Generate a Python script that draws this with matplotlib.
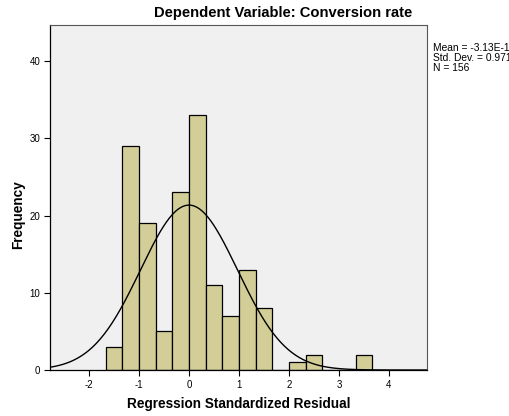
import numpy as np
import matplotlib.pyplot as plt

# histogram of standardized residuals, bins of width 1/3
bin_edges = np.arange(-5, 12) / 3.0
counts = [3, 29, 19, 5, 23, 33, 11, 7, 13, 8, 0, 1, 2, 0, 0, 2]
n_obs = 156
mean_val = 0.0
std_val = 0.971
stats_lines = ["Mean = -3.13E-16", "Std. Dev. = 0.971", "N = 156"]

plt.rcParams['font.family'] = ['Liberation Sans', 'DejaVu Sans']
plt.rcParams['axes.unicode_minus'] = False

fig = plt.figure(figsize=(5.10, 4.16), dpi=100)
ax = fig.add_axes([50 / 510, 1 - 370 / 416, 377 / 510, 345 / 416])
ax.set_facecolor('#F0F0F0')

ax.bar(bin_edges[:-1], counts, width=np.diff(bin_edges), align='edge',
       color='#D3CE97', edgecolor='black', linewidth=0.9, zorder=2)

# fitted normal curve, scaled to counts
bw = bin_edges[1] - bin_edges[0]
xs = np.linspace(-2.78, 4.76, 400)
ys = n_obs * bw / (std_val * np.sqrt(2 * np.pi)) * np.exp(-0.5 * ((xs - mean_val) / std_val) ** 2)
ax.plot(xs, ys, color='black', linewidth=1.0, zorder=3)

ax.set_xlim(-2.78, 4.76)
ax.set_ylim(0, 44.7)
ax.set_xticks([-2, -1, 0, 1, 2, 3, 4])
ax.set_yticks([0, 10, 20, 30, 40])
ax.tick_params(labelsize=7, length=4, width=0.8, direction='out', pad=3)

for side in ['top', 'right']:
    ax.spines[side].set_color('#555555')
    ax.spines[side].set_linewidth(0.8)
for side in ['left', 'bottom']:
    ax.spines[side].set_color('black')
    ax.spines[side].set_linewidth(0.9)

ax.set_xlabel('Regression Standardized Residual', fontsize=9.8, fontweight='bold', va='center')
ax.xaxis.set_label_coords(0.5, -34 / 345)
ax.set_ylabel('Frequency', fontsize=9.8, fontweight='bold', va='center')
ax.yaxis.set_label_coords(-32 / 377, 0.45)

fig.text(283 / 510, 1 - 13 / 416, 'Dependent Variable: Conversion rate',
         ha='center', va='center', fontsize=10.6, fontweight='bold')

for i, line in enumerate(stats_lines):
    fig.text(433 / 510, 1 - (48 + i * 10) / 416, line, ha='left', va='center', fontsize=7.4)

fig.savefig('out.png', dpi=100, facecolor='white')
